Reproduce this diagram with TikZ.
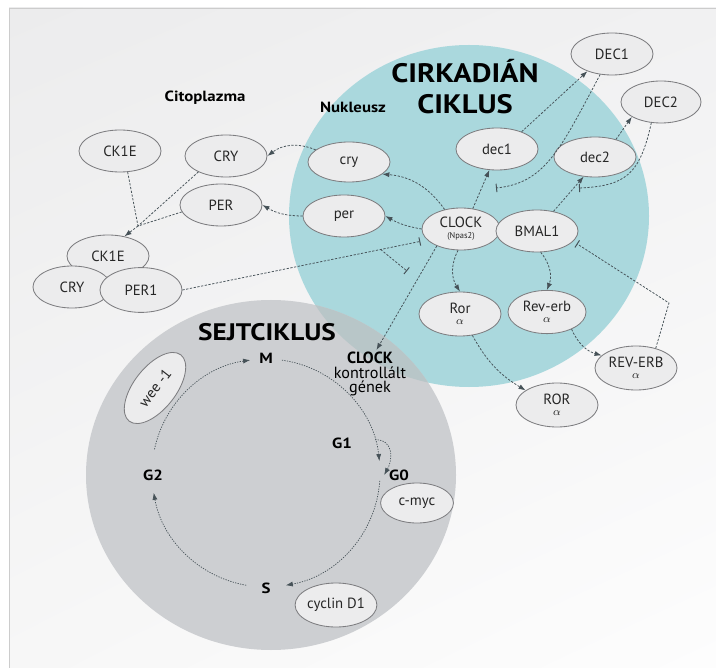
\documentclass[tikz,border=0pt]{standalone}
\usepackage{fontspec}
\setmainfont{PT Sans}
\newfontfamily\wideboldfont{PT Sans}[FakeStretch=1.14]
\usetikzlibrary{shapes.geometric,arrows.meta,shadings}
\definecolor{nucleus}{RGB}{170,216,221}
\definecolor{cellcyc}{RGB}{205,207,210}
\definecolor{overlap}{RGB}{184,198,200}
\definecolor{protfill}{RGB}{236,236,237}
\definecolor{protline}{RGB}{125,125,128}
\definecolor{linkc}{RGB}{70,82,88}
\definecolor{panelA}{RGB}{236,236,237}
\definecolor{panelB}{RGB}{241,241,242}
\definecolor{panelC}{RGB}{247,247,247}
\definecolor{panelD}{RGB}{253,253,253}
\tikzset{
  prot/.style={ellipse, draw=protline, fill=protfill, line width=0.6pt,
    minimum width=2.05cm, minimum height=1.05cm, inner sep=0pt,
    font=\fontsize{10.5}{11}\selectfont, text=black!85, align=center},
  lbl/.style={font=\wideboldfont\bfseries\fontsize{10.5}{11}\selectfont},
  bigtitle/.style={font=\wideboldfont\bfseries\fontsize{19}{22}\selectfont, align=center},
  link/.style={draw=linkc, line width=0.55pt, dash pattern=on 1.6pt off 1.1pt},
  act/.style={link, -{Latex[length=5pt,width=3.6pt]}},
  inh/.style={link, -{Bar[width=6pt,line width=0.7pt]}},
  phase/.style={draw=linkc, line width=0.5pt, dash pattern=on 0.9pt off 0.9pt},
  phasearr/.style={phase, -{Latex[length=5pt,width=3.6pt]}},
}
\newcommand{\alphaline}{{\fontsize{8}{8}\selectfont$\alpha$}}
\begin{document}
\begin{tikzpicture}[x=0.025cm,y=-0.025cm]
  \useasboundingbox (0,0) rectangle (716,668);

  % Drawing the panel
  \shade[upper left=panelA, upper right=panelB, lower left=panelC, lower right=panelD]
    (9,8) rectangle (716,668);
  \draw[black!20, line width=0.4pt] (9,668) -- (9,8) -- (716,8);

  % Drawing the nucleus and the cell cycle
  \fill[nucleus] (469,216) ellipse [x radius=180, y radius=171];
  \fill[cellcyc] (271,475) ellipse [x radius=185, y radius=175];
  \begin{scope}
    \clip (469,216) ellipse [x radius=180, y radius=171];
    \fill[overlap] (271,475) ellipse [x radius=185, y radius=175];
  \end{scope}

  % Marking the titles
  \node[bigtitle] (cirk) at (465,87) {CIRKADIÁN\\CIKLUS};
  \node[bigtitle, font=\wideboldfont\bfseries\fontsize{17}{19}\selectfont] (sejt) at (267,332) {SEJTCIKLUS};
  \node[lbl] (cito) at (205,98) {Citoplazma};
  \node[lbl] (nukl) at (353,107) {Nukleusz};

  % Marking proteins in the cytoplasm
  \node[prot] (ckt) at (120,151) {CK1E};
  \node[prot] (CRY) at (226,156) {CRY};
  \node[prot] (PER) at (221,205) {PER};

  % Marking the complex
  \node[prot] (ckc) at (108,256) {CK1E};
  \node[prot, minimum width=1.95cm] (cryc) at (72,287) {CRY};
  \node[prot, minimum height=1.12cm] (perc) at (141,290) {PER1};

  % Marking genes in the nucleus
  \node[prot, minimum height=1cm] (cry) at (349,162) {cry};
  \node[prot] (per) at (344,216) {per};
  \node[prot] (dec1) at (497,149) {dec1};
  \node[prot, minimum height=1cm] (dec2) at (595,157) {dec2};
  \node[prot, minimum width=1.95cm] (clock) at (461,229)
    {CLOCK\\[-3pt]{\fontsize{6}{6}\selectfont(Npas2)}};
  \node[prot] (bmal) at (537,231) {BMAL1};
  \node[prot, minimum height=1.1cm] (ror) at (460,314) {Ror\\[-3pt]\alphaline};
  \node[prot, minimum width=1.95cm, minimum height=1.08cm] (reverb) at (547,312)
    {Rev-erb\\[-3pt]\alphaline};

  % Marking proteins outside
  \node[prot] (DEC1) at (612,54) {DEC1};
  \node[prot, minimum width=2cm] (DEC2) at (661,102) {DEC2};
  \node[prot, minimum height=1.1cm] (REVERB) at (636,368) {REV-ERB\\[-3pt]\alphaline};
  \node[prot, minimum height=1.1cm] (ROR) at (557,405) {ROR\\[-3pt]\alphaline};

  % Marking the CLOCK controlled genes
  \node[align=center, font=\fontsize{11.5}{10.5}\selectfont, inner sep=1pt] (ccg) at (370,374)
    {\textbf{CLOCK}\\kontrollált\\gének};

  % Marking the phases
  \node[lbl] (M) at (266,358) {M};
  \node[lbl] (G1) at (342,443) {G1};
  \node[lbl] (G0) at (399,475) {G0};
  \node[lbl] (G2) at (153,475) {G2};
  \node[lbl] (S) at (266,588) {S};

  % Marking cell cycle regulators
  \node[prot, rotate=52, minimum width=2.1cm] (wee) at (155,388) {wee -1};
  \node[prot, minimum width=1.82cm, minimum height=1cm] (cmyc) at (417,503) {c-myc};
  \node[prot, minimum width=2cm, minimum height=1.1cm] (cyclin) at (336,605) {cyclin D1};

  % Drawing the cell cycle
  \coordinate (ring) at (266,473);
  \draw[phasearr] (ring) ++(-168:114) arc [start angle=-168, end angle=-98, radius=114];
  \draw[phasearr] (ring) ++(-82:114) arc [start angle=-82, end angle=-6, radius=114];
  \draw[phasearr] (ring) ++(4:114) arc [start angle=4, end angle=80, radius=114];
  \draw[phasearr] (ring) ++(100:114) arc [start angle=100, end angle=170, radius=114];
  \draw[phasearr] (ring) ++(-17:114) .. controls +(20,0) and +(8,-14) .. (G0.west);

  % Drawing the cytoplasm links
  \coordinate (meet) at (138,226);
  \draw[link] (ckt.-70) -- (meet);
  \draw[link] (CRY.210) -- (meet);
  \draw[link] (PER.190) -- (meet);
  \draw[act] (meet) -- (ckc.50);
  \draw[act] (cry.160) to[bend right=30] (CRY.east);
  \draw[act] (per.west) to[bend left=15] (PER.east);

  % Drawing the CLOCK links
  \draw[act] (clock.130) to[bend right=25] (cry.-20);
  \draw[act] (clock.west) to[bend left=10] (per.east);
  \draw[act] (clock.60) -- (dec1.250);
  \draw[act] (clock.215) -- (ccg.75);
  \draw[act] (clock.262) to[bend right=30] (ror.north);
  \draw[act] (bmal.50) -- (dec2.240);
  \draw[act] (bmal.-80) to[bend left=30] (reverb.north);
  \draw[act] (ror.-60) to[bend right=15] (ROR.155);
  \draw[act] (reverb.-35) to[bend right=25] (REVERB.160);
  \draw[act] (dec1.35) -- (DEC1.215);
  \draw[act] (dec2.40) -- (DEC2.207);

  % Drawing the inhibitions
  \draw[inh, shorten >=5pt] (perc.east) -- coordinate[pos=0.81] (br) (clock.198);
  \coordinate (brend) at (407,271);
  \draw[inh] (br) -- (brend);
  \coordinate (dec1in) at (496,188);
  \draw[inh] (DEC1.240) .. controls (560,150) and (545,183) .. (dec1in);
  \coordinate (dec2in) at (579,188);
  \draw[inh] (DEC2.245) .. controls (640,175) and (625,186) .. (dec2in);
  \coordinate (revbend) at (669,303);
  \draw[inh, shorten >=3pt] (REVERB.45) -- (revbend) -- (bmal.-16);
\end{tikzpicture}
\end{document}
